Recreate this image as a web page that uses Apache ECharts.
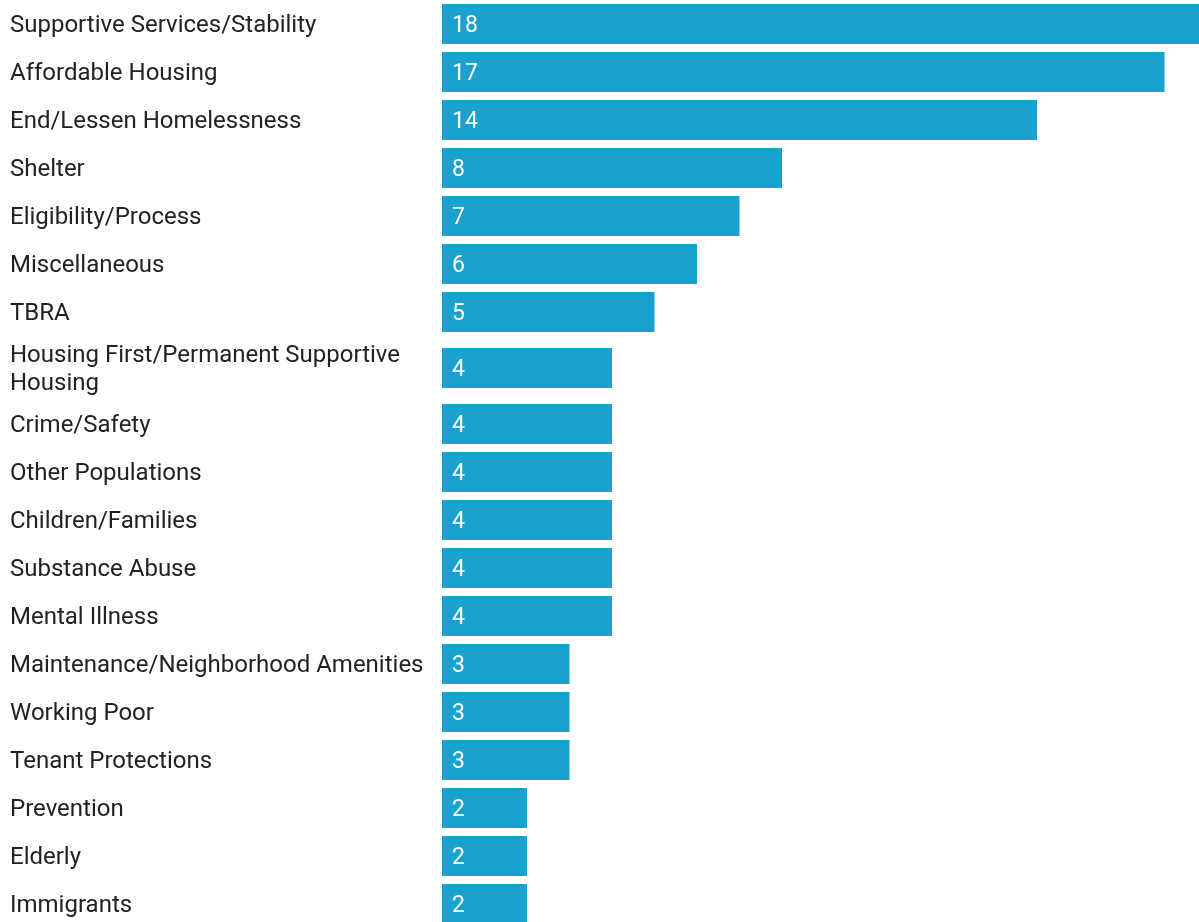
<!DOCTYPE html>
<html>
<head>
<meta charset="utf-8">
<script src="https://cdn.jsdelivr.net/npm/echarts@6/dist/echarts.min.js"></script>
<style>
html,body{margin:0;padding:0;background:#fff;overflow:hidden;width:1199px;height:922px;}
#chart{width:1207px;height:930px;}
</style>
</head>
<body>
<div id="chart"></div>
<script>
const categories = [
  "Supportive Services/Stability",
  "Affordable Housing",
  "End/Lessen Homelessness",
  "Shelter",
  "Eligibility/Process",
  "Miscellaneous",
  "TBRA",
  "Housing First/Permanent Supportive Housing",
  "Crime/Safety",
  "Other Populations",
  "Children/Families",
  "Substance Abuse",
  "Mental Illness",
  "Maintenance/Neighborhood Amenities",
  "Working Poor",
  "Tenant Protections",
  "Prevention",
  "Elderly",
  "Immigrants"
];
const counts = [18, 17, 14, 8, 7, 6, 5, 4, 4, 4, 4, 4, 4, 3, 3, 3, 2, 2, 2];

const BAR_COLOR = '#1aa1cf';
const FONT = 'Roboto';
const groups = [[0, 7], [7, 8], [8, 19]];
const gridLayout = [{top: 0, height: 336}, {top: 336, height: 64}, {top: 400, height: 528}];
const LABEL_SHIFT = 2;

const grid = [], xAxis = [], yAxis = [], series = [];
// bar grids (no category labels)
groups.forEach((g, i) => {
  grid.push({left: 442, right: 0, top: gridLayout[i].top, height: gridLayout[i].height});
  xAxis.push({type: 'value', gridIndex: i, min: 0, max: 18, show: false});
  yAxis.push({
    type: 'category', gridIndex: i, inverse: true,
    data: categories.slice(g[0], g[1]),
    axisLine: {show: false}, axisTick: {show: false}, splitLine: {show: false},
    axisLabel: {show: false}
  });
  series.push({
    type: 'bar', xAxisIndex: i, yAxisIndex: i,
    data: counts.slice(g[0], g[1]),
    barWidth: 40, clip: true,
    itemStyle: {color: BAR_COLOR},
    label: {show: true, position: 'insideLeft', distance: 10, offset: [0, 2], color: '#fff', fontFamily: FONT, fontSize: 23},
    silent: true
  });
});
// label grids (category labels only)
groups.forEach((g, i) => {
  const gi = grid.length;
  grid.push({left: 442, right: 0, top: gridLayout[i].top + LABEL_SHIFT, height: gridLayout[i].height});
  xAxis.push({type: 'value', gridIndex: gi, min: 0, max: 18, show: false});
  yAxis.push({
    type: 'category', gridIndex: gi, inverse: true,
    data: categories.slice(g[0], g[1]),
    axisLine: {show: false}, axisTick: {show: false}, splitLine: {show: false},
    axisLabel: {
      align: 'left', margin: 432, color: '#222', fontFamily: FONT, fontSize: 24,
      width: 425, overflow: 'break', lineHeight: 28
    }
  });
});

const chart = echarts.init(document.getElementById('chart'), null, {renderer: 'canvas'});
chart.setOption({animation: false, grid, xAxis, yAxis, series});
</script>
</body>
</html>
